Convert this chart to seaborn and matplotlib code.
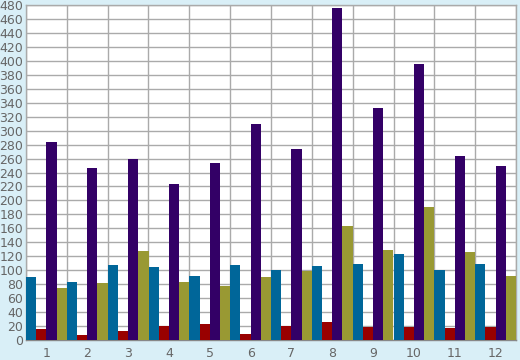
import matplotlib
matplotlib.use('Agg')
import matplotlib.pyplot as plt
import seaborn as sns
import pandas as pd
import numpy as np

categories = ['1', '2', '3', '4', '5', '6', '7', '8', '9', '10', '11', '12']
series_names = ['A', 'B', 'C', 'D']
blue = [90, 83, 107, 104, 91, 107, 100, 106, 109, 123, 101, 109]
red = [16, 7, 13, 20, 23, 9, 20, 26, 19, 19, 17, 19]
purple = [283, 246, 260, 223, 253, 309, 274, 475, 333, 395, 264, 250]
olive = [74, 81, 127, 83, 77, 90, 99, 163, 129, 191, 126, 91]

colors = ['#006699', '#990000', '#330066', '#999933']

df = pd.DataFrame({
    'cat': categories * 4,
    'series': np.repeat(series_names, len(categories)),
    'value': blue + red + purple + olive,
})

sns.set_style('white')
plt.rcParams['font.family'] = ['DejaVu Sans']

fig = plt.figure(figsize=(5.2, 3.6), dpi=100, facecolor='#d9eff7')
ax = fig.add_axes([26 / 520, 20 / 360, 490 / 520, 335 / 360])
ax.set_facecolor('white')

sns.barplot(data=df, x='cat', y='value', hue='series', palette=colors,
            width=1.0, gap=0, saturation=1, linewidth=0, errorbar=None,
            legend=False, ax=ax, zorder=3)

ax.set_xlim(-0.5, 11.5)
ax.set_ylim(0, 480)
ax.set_yticks(range(0, 481, 20))
ax.set_xticks(range(12))
ax.set_xticks(np.arange(-0.5, 12, 1), minor=True)
ax.grid(True, axis='y', color='#aaaaaa', linewidth=1, zorder=0)
ax.grid(True, axis='x', which='minor', color='#aaaaaa', linewidth=1, zorder=0)
ax.tick_params(axis='x', which='major', length=0, labelsize=9, labelcolor='#666666', pad=5)
ax.tick_params(axis='x', which='minor', length=5, color='#888888', direction='out')
ax.tick_params(axis='y', length=0, labelsize=9, labelcolor='#666666', pad=2)
for s in ax.spines.values():
    s.set_color('#aaaaaa')
    s.set_linewidth(1)
ax.spines['bottom'].set_color('#888888')
ax.set_xlabel('')
ax.set_ylabel('')

fig.savefig('out.png', dpi=100, facecolor=fig.get_facecolor())
